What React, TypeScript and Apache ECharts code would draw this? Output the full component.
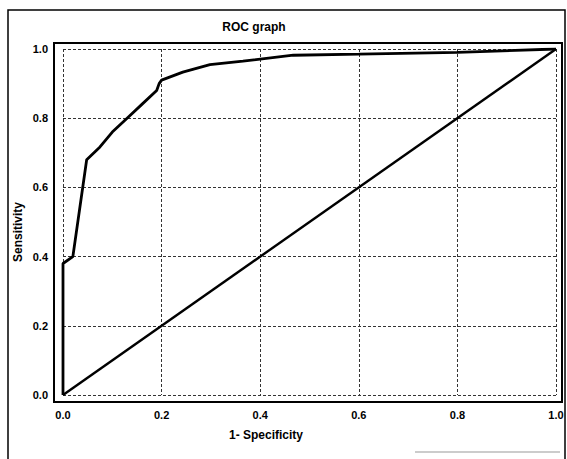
import React, { useEffect, useRef } from "react";
import * as echarts from "echarts";

const fpr = [0, 0, 0.02, 0.048, 0.075, 0.1, 0.13, 0.16, 0.19, 0.195, 0.2, 0.243, 0.298, 0.365, 0.467, 0.6, 0.8, 1.0];
const tpr = [0, 0.38, 0.4, 0.68, 0.717, 0.76, 0.8, 0.84, 0.88, 0.9, 0.91, 0.933, 0.955, 0.965, 0.982, 0.985, 0.99, 1.0];
const diagX = [0, 1];
const diagY = [0, 1];
const titleText = "ROC graph";
const xName = "1- Specificity";
const yName = "Sensitivity";

export default function App() {
  const ref = useRef<HTMLDivElement>(null);
  useEffect(() => {
    const chart = echarts.init(ref.current!, null, { renderer: "svg" });
    const font = "'Liberation Sans', Arial, sans-serif";
    const gridLine = { show: true, lineStyle: { color: "#333", type: [3, 2], width: 1 } };
    chart.setOption({
      animation: false,
      backgroundColor: "#fff",
      grid: { left: 63, right: 11, top: 49, bottom: 64 },
      xAxis: {
        type: "value", min: 0, max: 1, interval: 0.2,
        axisLine: { show: false }, axisTick: { show: false },
        splitLine: gridLine,
        axisLabel: { margin: 14, color: "#000", fontWeight: "bold", fontSize: 11, fontFamily: font,
          formatter: (v: number) => v.toFixed(1) },
      },
      yAxis: {
        type: "value", min: 0, max: 1, interval: 0.2,
        axisLine: { show: false }, axisTick: { show: false },
        splitLine: gridLine,
        axisLabel: { margin: 15, color: "#000", fontWeight: "bold", fontSize: 11, fontFamily: font,
          formatter: (v: number) => v.toFixed(1) },
      },
      series: [
        {
          type: "line", symbol: "none",
          data: fpr.map((x, i) => [x, tpr[i]]),
          lineStyle: { color: "#000", width: 2.8 },
        },
        {
          type: "line", symbol: "none",
          data: diagX.map((x, i) => [x, diagY[i]]),
          lineStyle: { color: "#000", width: 2.4 },
        },
      ],
      graphic: [
        { type: "rect", shape: { x: 8, y: 10, width: 557, height: 460 }, style: { fill: "none", stroke: "#000", lineWidth: 1.5 } },
        { type: "rect", shape: { x: 54, y: 43, width: 508, height: 359 }, style: { fill: "none", stroke: "#000", lineWidth: 2 } },
        { type: "text", x: 254, y: 27, style: { text: titleText, fontSize: 12, fontWeight: "bold", fontFamily: font, fill: "#000", align: "center", verticalAlign: "middle" } },
        { type: "text", x: 266, y: 435, style: { text: xName, fontSize: 12, fontWeight: "bold", fontFamily: font, fill: "#000", align: "center", verticalAlign: "middle" } },
        { type: "text", x: 18, y: 232, rotation: Math.PI / 2, style: { text: yName, fontSize: 12, fontWeight: "bold", fontFamily: font, fill: "#000", align: "center", verticalAlign: "middle" } },
        { type: "line", shape: { x1: 415, y1: 452, x2: 560, y2: 452 }, style: { stroke: "#999", lineWidth: 1 } },
      ],
    });
    return () => chart.dispose();
  }, []);
  return <div ref={ref} style={{ width: 567, height: 459, position: "absolute", left: 0, top: 0 }} />;
}
